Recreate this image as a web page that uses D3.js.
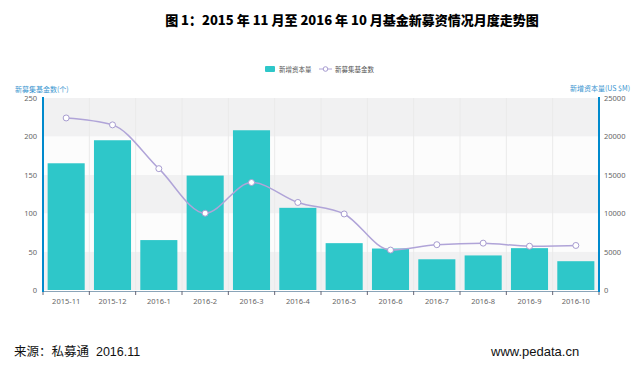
<!DOCTYPE html>
<html><head><meta charset="utf-8">
<script src="https://cdn.jsdelivr.net/npm/d3@7/dist/d3.min.js"></script>
<style>html,body{margin:0;padding:0;background:#fff;}svg{display:block;}</style>
</head><body>
<svg id="c" width="644" height="367"></svg>
<script>
const categories = ["2015-11","2015-12","2016-1","2016-2","2016-3","2016-4","2016-5","2016-6","2016-7","2016-8","2016-9","2016-10"];
const capitalValues = [16500,19500,6500,14900,20800,10700,6100,5400,4000,4500,5450,3750]; // 新增资本量 (US $M)
const fundCounts = [224,215,158,100,140,114,99,52,59,61,57,58]; // 新募集基金数 (个)
const leftTicks = [0,50,100,150,200,250];
const rightTicks = [0,5000,10000,15000,20000,25000];

const svg = d3.select("#c");
const L = 43, R = 599, T = 98, B = 290;
const cjk = "'Noto Sans CJK SC','Noto Sans',sans-serif";
const axisColor = "#008acd";

// title
svg.append("text").attr("x", 352).attr("y", 25).attr("text-anchor","middle")
  .attr("font-family", cjk).attr("font-weight","900").attr("font-size",13).attr("fill","#000")
  .text("图 1：2015 年 11 月至 2016 年 10 月基金新募资情况月度走势图");

const x = d3.scaleBand().domain(categories).range([L,R]).paddingInner(0.2).paddingOuter(0.1);
const yL = d3.scaleLinear().domain([0,250]).range([B,T]);
const yR = d3.scaleLinear().domain([0,25000]).range([B,T]);

// split areas
for (let i = 0; i < leftTicks.length-1; i++) {
  svg.append("rect").attr("x", L).attr("width", R-L)
    .attr("y", yL(leftTicks[i+1])).attr("height", yL(leftTicks[i]) - yL(leftTicks[i+1]))
    .attr("fill", i % 2 === 0 ? "#f1f1f2" : "#fcfcfc");
}
// vertical split lines at category boundaries
const step = x.step();
categories.forEach((c,i) => {
  if (i === 0) return;
  const xx = x(c) - step*0.1;
  svg.append("line").attr("x1",xx).attr("x2",xx).attr("y1",T).attr("y2",B)
    .attr("stroke","#eaeaea").attr("stroke-width",1);
});

// bars
svg.append("g").selectAll("rect").data(capitalValues).join("rect")
  .attr("x",(d,i)=>x(categories[i])).attr("width",x.bandwidth())
  .attr("y",d=>yR(d)).attr("height",d=>B-yR(d)).attr("fill","#2ec7c9");

// line
const line = d3.line().x((d,i)=>x(categories[i])+x.bandwidth()/2).y(d=>yL(d)).curve(d3.curveMonotoneX);
svg.append("path").datum(fundCounts).attr("d",line).attr("fill","none")
  .attr("stroke","#b0a4d8").attr("stroke-width",1.5);
svg.append("g").selectAll("circle").data(fundCounts).join("circle")
  .attr("cx",(d,i)=>x(categories[i])+x.bandwidth()/2).attr("cy",d=>yL(d)).attr("r",3)
  .attr("fill","#fff").attr("stroke","#a79cd0").attr("stroke-width",1);

// axes
const xAxis = d3.axisBottom(x).tickSize(0).tickPadding(8);
const gx = svg.append("g").attr("transform",`translate(0,${B+1})`).call(xAxis);
gx.select(".domain").attr("stroke","#8aa4b8").attr("stroke-width",1);
gx.selectAll("text").attr("font-family","'Noto Sans',sans-serif").attr("font-size",7.5).attr("fill","#666");
categories.forEach((c,i)=>{
  const xx = x(c) - step*0.1;
  gx.append("line").attr("x1",xx).attr("x2",xx).attr("y1",0).attr("y2",4).attr("stroke","#667");
});
gx.append("line").attr("x1",R).attr("x2",R).attr("y1",0).attr("y2",4).attr("stroke","#667");

const gl = svg.append("g").attr("transform",`translate(${L},0)`)
  .call(d3.axisLeft(yL).tickValues(leftTicks).tickFormat(d3.format("d")).tickSize(0).tickPadding(6));
gl.select(".domain").attr("stroke",axisColor).attr("stroke-width",2).attr("d",`M0,${T-1}V${B+2}`);
gl.selectAll("text").attr("font-family","'Noto Sans',sans-serif").attr("font-size",7.5).attr("fill","#666");

const gr = svg.append("g").attr("transform",`translate(${R},0)`)
  .call(d3.axisRight(yR).tickValues(rightTicks).tickFormat(d3.format("d")).tickSize(0).tickPadding(5));
gr.select(".domain").attr("stroke",axisColor).attr("stroke-width",2).attr("d",`M0,${T-1}V${B+2}`);
gr.selectAll("text").attr("font-family","'Noto Sans',sans-serif").attr("font-size",7.5).attr("fill","#666");

// axis names
svg.append("text").attr("x",15).attr("y",92).attr("font-family",cjk).attr("font-size",7)
  .attr("fill","#3a96d0").text("新募集基金数(个)");
svg.append("text").attr("x",630).attr("y",91).attr("text-anchor","end").attr("font-family",cjk).attr("font-size",7)
  .attr("fill","#3a96d0").text("新增资本量(US $M)");

// legend
svg.append("rect").attr("x",265).attr("y",66).attr("width",10).attr("height",6).attr("rx",1).attr("fill","#2ec7c9");
svg.append("text").attr("x",279).attr("y",72).attr("font-family",cjk).attr("font-size",6.5).attr("fill","#555").text("新增资本量");
svg.append("line").attr("x1",319).attr("x2",332).attr("y1",69).attr("y2",69).attr("stroke","#b0a4d8").attr("stroke-width",1);
svg.append("circle").attr("cx",325.5).attr("cy",69).attr("r",2.3).attr("fill","#fff").attr("stroke","#a79cd0");
svg.append("text").attr("x",335).attr("y",72).attr("font-family",cjk).attr("font-size",6.5).attr("fill","#555").text("新募集基金数");

// footer
svg.append("text").attr("x",14).attr("y",356).attr("font-family","'Liberation Sans','Noto Sans CJK SC',sans-serif")
  .attr("font-size",12.5).attr("fill","#111").style("white-space","pre").text("来源：私募通  2016.11");
svg.append("text").attr("x",491).attr("y",356).attr("font-family","'Liberation Sans',sans-serif")
  .attr("font-size",13).attr("fill","#111").text("www.pedata.cn");
</script>
</body></html>
